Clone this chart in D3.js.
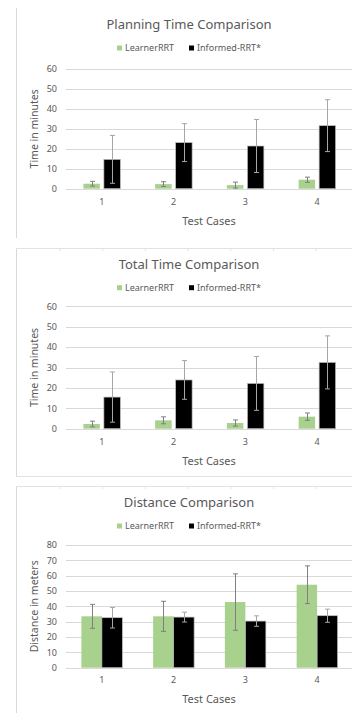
<!DOCTYPE html>
<html>
<head>
<meta charset="utf-8">
<script src="https://cdn.jsdelivr.net/npm/d3@7"></script>
<style>
  body { margin: 0; background: #fff; }
  text { font-family: "Noto Sans", "Open Sans", sans-serif; fill: #595959; }
</style>
</head>
<body>
<div id="chart"></div>
<script>

// chart values

var testCases = ["1", "2", "3", "4"];
var seriesNames = ["LearnerRRT", "Informed-RRT*"];

var planningLearner = [2.5, 2.3, 1.8, 4.5];
var planningLearnerErr = [1.2, 1.2, 1.5, 1.3];
var planningInformed = [14.7, 23.1, 21.4, 31.6];
var planningInformedErr = [12.0, 9.5, 13.3, 13.0];

var totalLearner = [2.3, 4.1, 2.8, 5.9];
var totalLearnerErr = [1.4, 1.7, 1.5, 1.8];
var totalInformed = [15.5, 23.9, 22.2, 32.5];
var totalInformedErr = [12.3, 9.5, 13.2, 13.0];

var distanceLearner = [33.5, 33.5, 42.8, 54.1];
var distanceLearnerErr = [7.8, 9.8, 18.4, 12.3];
var distanceInformed = [32.6, 33.0, 30.4, 33.9];
var distanceInformedErr = [6.7, 3.2, 3.4, 4.3];

var timeTicks = [0, 10, 20, 30, 40, 50, 60];
var distanceTicks = [0, 10, 20, 30, 40, 50, 60, 70, 80];

var colors = ["#a9d18e", "#000000"];

var svgWidth = 352;
var svgHeight = 713;

var svg = d3.select("#chart")
	.append("svg")
	.attr("width", svgWidth)
	.attr("height", svgHeight);

// panel frames (light spreadsheet borders)

var frames = [[8, 238], [248, 476], [486, 720]];
frames.forEach(function(f, i) {
	svg.append("line")
		.attr("x1", 16.5).attr("x2", 16.5)
		.attr("y1", f[0]).attr("y2", f[1])
		.attr("stroke", "#d9d9d9");
	if (i > 0) {
		svg.append("line")
			.attr("x1", 16).attr("x2", svgWidth)
			.attr("y1", f[0] + 0.5).attr("y2", f[0] + 0.5)
			.attr("stroke", "#e3e3e3");
		d3.range(60, svgWidth, 42.7).forEach(function(tx) {
			svg.append("line")
				.attr("x1", tx).attr("x2", tx)
				.attr("y1", f[0]).attr("y2", f[0] + 3)
				.attr("stroke", "#e3e3e3");
		});
	}
});
svg.append("line")
	.attr("x1", 16).attr("x2", svgWidth)
	.attr("y1", 476.5).attr("y2", 476.5)
	.attr("stroke", "#e3e3e3");

// draw one bar chart panel

function drawPanel(opts) {

	var g = svg.append("g")
		.attr("transform", `translate(0, ${opts.top})`);

	var x = d3.scaleBand()
		.domain(testCases)
		.range([66, 353]);

	var xSub = d3.scaleBand()
		.domain(seriesNames)
		.range([-opts.groupHalf, opts.groupHalf])
		.paddingInner(opts.gap);

	var y = d3.scaleLinear()
		.domain([0, opts.ticks[opts.ticks.length - 1]])
		.range([opts.bottom, opts.plotTop]);

	// gridlines

	g.append("g")
		.selectAll("line")
		.data(opts.ticks)
		.enter()
		.append("line")
		.attr("x1", 66)
		.attr("x2", svgWidth)
		.attr("y1", d => Math.round(y(d)) + 0.5)
		.attr("y2", d => Math.round(y(d)) + 0.5)
		.attr("stroke", "#d9d9d9");

	// y axis

	var leftAxis = d3.axisLeft(y)
		.tickValues(opts.ticks)
		.tickSize(0)
		.tickPadding(0);

	var yAxis = g.append("g")
		.attr("transform", "translate(57, 0)")
		.call(leftAxis);
	yAxis.select(".domain").remove();
	yAxis.selectAll("text")
		.style("font-size", "9px")
		.style("font-family", "\"Noto Sans\", sans-serif")
		.attr("fill", "#595959");

	// x axis

	var bottomAxis = d3.axisBottom(x)
		.tickSize(0)
		.tickPadding(0);

	var xAxis = g.append("g")
		.attr("transform", "translate(0, 199)")
		.call(bottomAxis);
	xAxis.select(".domain").remove();
	xAxis.selectAll("text")
		.style("font-size", "9px")
		.style("font-family", "\"Noto Sans\", sans-serif")
		.attr("fill", "#595959");

	// bars

	var rows = [];
	testCases.forEach(function(c, i) {
		rows.push({ cat: c, name: seriesNames[0], value: opts.values[0][i], err: opts.errors[0][i], color: colors[0] });
		rows.push({ cat: c, name: seriesNames[1], value: opts.values[1][i], err: opts.errors[1][i], color: colors[1] });
	});

	var center = d => x(d.cat) + x.bandwidth() / 2;

	g.selectAll("rect.bar")
		.data(rows)
		.enter()
		.append("rect")
		.classed("bar", true)
		.attr("x", d => center(d) + xSub(d.name))
		.attr("width", xSub.bandwidth())
		.attr("y", d => y(d.value))
		.attr("height", d => y(0) - y(d.value))
		.attr("fill", d => d.color)
		.attr("stroke", d => d.name === seriesNames[1] ? "#bfbfbf" : "none")
		.attr("stroke-width", 0.7);

	// error bars

	var errs = g.selectAll("g.err")
		.data(rows)
		.enter()
		.append("g")
		.classed("err", true)
		.attr("stroke", d => d.name === seriesNames[1] ? "#a6a6a6" : "#7f7f7f")
		.attr("stroke-width", 1);

	var mid = d => Math.round(center(d) + xSub(d.name) + xSub.bandwidth() / 2) + 0.5;

	errs.append("line")
		.attr("x1", mid).attr("x2", mid)
		.attr("y1", d => y(d.value + d.err))
		.attr("y2", d => y(Math.max(0, d.value - d.err)));
	errs.append("line")
		.attr("x1", d => mid(d) - 2.5).attr("x2", d => mid(d) + 2.5)
		.attr("y1", d => y(d.value + d.err)).attr("y2", d => y(d.value + d.err));
	errs.append("line")
		.attr("x1", d => mid(d) - 2.5).attr("x2", d => mid(d) + 2.5)
		.attr("y1", d => y(Math.max(0, d.value - d.err))).attr("y2", d => y(Math.max(0, d.value - d.err)));

	// title

	g.append("text")
		.attr("x", 189)
		.attr("y", 29)
		.attr("text-anchor", "middle")
		.style("font-size", "13px")
		.text(opts.title);

	// legend

	var legendX = [117, 189];
	seriesNames.forEach(function(name, i) {
		g.append("rect")
			.attr("x", legendX[i])
			.attr("y", opts.legendY - 2.5)
			.attr("width", 5)
			.attr("height", 5)
			.attr("fill", colors[i]);
		g.append("text")
			.attr("x", legendX[i] + 8)
			.attr("y", opts.legendY + 3)
			.style("font-size", "9px")
			.text(name);
	});

	// axis titles

	g.append("text")
		.attr("transform", `translate(38, ${(opts.bottom + opts.plotTop) / 2}) rotate(-90)`)
		.attr("text-anchor", "middle")
		.style("font-size", "10.5px")
		.text(opts.yLabel);

	g.append("text")
		.attr("x", 209)
		.attr("y", 225)
		.attr("text-anchor", "middle")
		.style("font-size", "11px")
		.text("Test Cases");
}

drawPanel({
	top: 0,
	title: "Planning Time Comparison",
	yLabel: "Time in minutes",
	ticks: timeTicks,
	values: [planningLearner, planningInformed],
	errors: [planningLearnerErr, planningInformedErr],
	plotTop: 69,
	bottom: 188.7,
	legendY: 48,
	groupHalf: 18.5,
	gap: 0.195
});

drawPanel({
	top: 240,
	title: "Total Time Comparison",
	yLabel: "Time in minutes",
	ticks: timeTicks,
	values: [totalLearner, totalInformed],
	errors: [totalLearnerErr, totalInformedErr],
	plotTop: 66.3,
	bottom: 188.7,
	legendY: 47.7,
	groupHalf: 18.5,
	gap: 0.195
});

drawPanel({
	top: 478,
	title: "Distance Comparison",
	yLabel: "Distance in meters",
	ticks: distanceTicks,
	values: [distanceLearner, distanceInformed],
	errors: [distanceLearnerErr, distanceInformedErr],
	plotTop: 67,
	bottom: 189.7,
	legendY: 48,
	groupHalf: 20.5,
	gap: 0
});

</script>
</body>
</html>
